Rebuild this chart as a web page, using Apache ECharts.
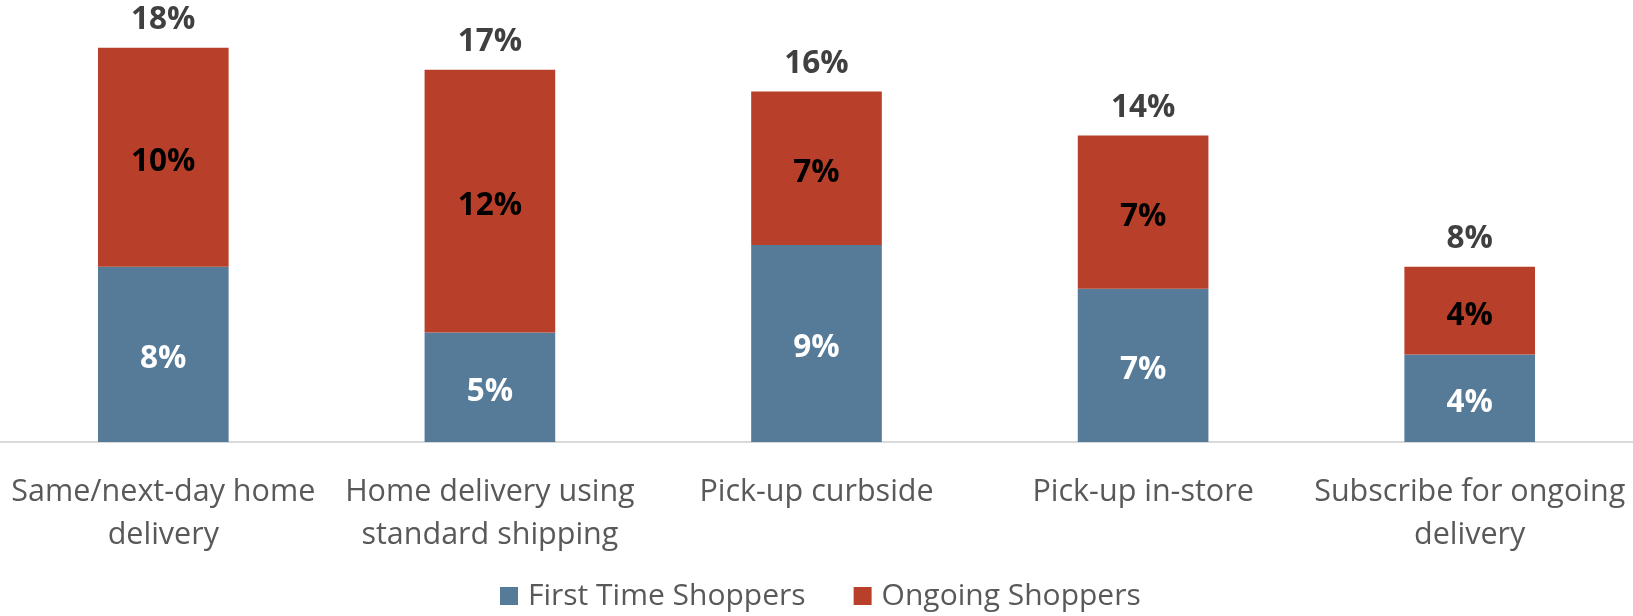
<!DOCTYPE html>
<html>
<head>
<meta charset="utf-8">
<title>Delivery options by shopper type</title>
<script src="https://cdn.jsdelivr.net/npm/echarts@6/dist/echarts.min.js"></script>
<style>
  html, body { margin: 0; padding: 0; background: #ffffff; }
  #chart { width: 1633px; height: 616px; }
</style>
</head>
<body>
<div id="chart"></div>
<script>
// Delivery methods (two-line labels under each bar)
const categories = [
  'Same/next-day home\ndelivery',
  'Home delivery using\nstandard shipping',
  'Pick-up curbside',
  'Pick-up in-store',
  'Subscribe for ongoing\ndelivery'
];

// Share of shoppers (%) per delivery method
const firstTimeShoppers = [8, 5, 9, 7, 4];
const ongoingShoppers = [10, 12, 7, 7, 4];
const totalShoppers = [18, 17, 16, 14, 8];

const seriesNames = ['First Time Shoppers', 'Ongoing Shoppers'];

const FONT = '"Open Sans", "Noto Sans", sans-serif';
const BLUE = '#567b99';
const RED = '#b8402a';

const chart = echarts.init(document.getElementById('chart'), null, { renderer: 'canvas' });

chart.setOption({
  animation: false,
  backgroundColor: '#ffffff',
  textStyle: { fontFamily: FONT },
  grid: { left: -2, right: -5, top: 4, bottom: 174, containLabel: false },
  legend: {
    data: seriesNames,
    left: 500,
    top: 581,
    padding: 0,
    itemWidth: 18,
    itemHeight: 18,
    itemGap: 48,
    icon: 'rect',
    textStyle: { fontFamily: FONT, fontSize: 30, color: '#595959', padding: [0, 0, 0, 5] }
  },
  xAxis: {
    type: 'category',
    data: categories,
    axisLine: { show: true, lineStyle: { color: '#d9d9d9', width: 2 } },
    axisTick: { show: false },
    axisLabel: {
      interval: 0,
      margin: 29,
      fontFamily: FONT,
      fontSize: 30.5,
      lineHeight: 43,
      color: '#595959'
    }
  },
  yAxis: {
    type: 'value',
    min: 0,
    max: 20,
    show: false,
    splitLine: { show: false }
  },
  series: [
    {
      name: seriesNames[0],
      type: 'bar',
      stack: 'share',
      barWidth: '40%',
      data: firstTimeShoppers,
      itemStyle: { color: BLUE },
      label: {
        show: true,
        position: 'inside',
        offset: [0, 5],
        formatter: p => p.value + '%',
        fontFamily: FONT,
        fontSize: 31.5,
        fontWeight: 'bold',
        color: '#ffffff'
      }
    },
    {
      name: seriesNames[1],
      type: 'bar',
      stack: 'share',
      barWidth: '40%',
      data: ongoingShoppers,
      itemStyle: { color: RED },
      label: {
        show: true,
        position: 'inside',
        offset: [0, 5],
        formatter: p => p.value + '%',
        fontFamily: FONT,
        fontSize: 31.5,
        fontWeight: 'bold',
        color: '#000000'
      }
    },
    {
      // Invisible carrier for the total labels above each stack
      name: 'Total',
      type: 'line',
      data: totalShoppers,
      symbol: 'circle',
      symbolSize: 1,
      showSymbol: true,
      silent: true,
      itemStyle: { color: 'rgba(0,0,0,0)' },
      lineStyle: { opacity: 0 },
      label: {
        show: true,
        position: 'top',
        distance: 11,
        formatter: p => p.value + '%',
        fontFamily: FONT,
        fontSize: 31.5,
        fontWeight: 'bold',
        color: '#404040'
      }
    }
  ]
});
</script>
</body>
</html>
